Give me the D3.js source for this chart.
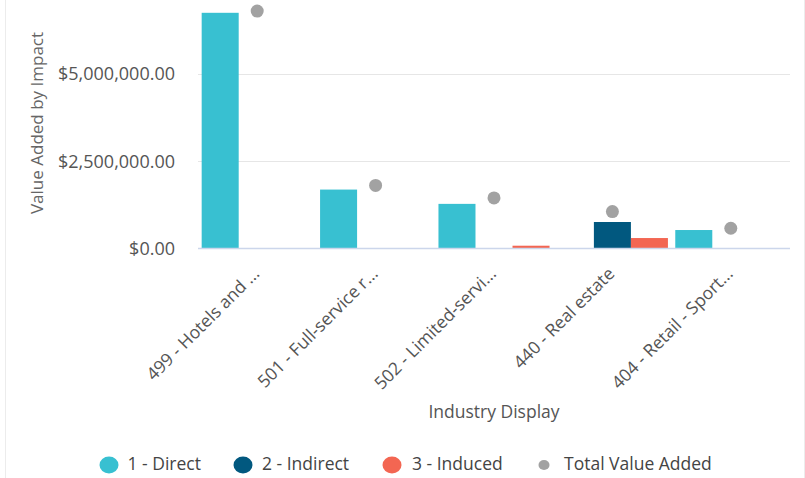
<!DOCTYPE html>
<html>
<head>
<meta charset="utf-8">
<script src="https://cdn.jsdelivr.net/npm/d3@7"></script>
<style>
  html, body { margin: 0; padding: 0; background: #fff; }
  svg { display: block; font-family: "Open Sans", "Noto Sans", sans-serif; }
</style>
</head>
<body>
<svg id="chart" width="805" height="478"></svg>
<script>
// Industries shown on the x axis (labels as displayed, truncated)
const categories = [
  "499 - Hotels and ...",
  "501 - Full-service r...",
  "502 - Limited-servi...",
  "440 - Real estate",
  "404 - Retail - Sport..."
];
// Value added by impact type, in dollars
const direct   = [6760000, 1690000, 1280000, 0, 530000];
const indirect = [0, 0, 0, 760000, 0];
const induced  = [0, 0, 80000, 300000, 0];
const totalValueAdded = [6810000, 1810000, 1450000, 1060000, 580000];
const yTicks = [0, 2500000, 5000000];

const seriesNames = ["1 - Direct", "2 - Indirect", "3 - Induced"];
const seriesColors = ["#38c0d1", "#01587f", "#f36652"];
const totalName = "Total Value Added";
const totalColor = "#a2a2a2";

const svg = d3.select("#chart");
const W = 805, H = 478;
const plot = { left: 198, right: 790, top: -13, bottom: 248.5 };

// card edges
svg.append("line").attr("x1", 5.5).attr("x2", 5.5).attr("y1", 0).attr("y2", H)
  .attr("stroke", "#ececec").attr("stroke-width", 1);
svg.append("line").attr("x1", 804.5).attr("x2", 804.5).attr("y1", 0).attr("y2", H)
  .attr("stroke", "#ececec").attr("stroke-width", 1);

const x = d3.scaleBand().domain(categories).range([plot.left, plot.right]).padding(0);
const xs = d3.scaleBand().domain(seriesNames)
  .range([x.bandwidth() * 0.031, x.bandwidth() * 0.969]).padding(0);
const y = d3.scaleLinear().domain([0, 7500000]).range([plot.bottom, plot.top]);

// gridlines
svg.append("g").selectAll("line")
  .data(yTicks.filter(d => d > 0))
  .join("line")
  .attr("x1", plot.left).attr("x2", plot.right)
  .attr("y1", d => Math.round(y(d)) + 0.5).attr("y2", d => Math.round(y(d)) + 0.5)
  .attr("stroke", "#e6e6e6").attr("stroke-width", 1);

// y axis labels
const fmt = d3.format("$,.2f");
const yAxis = d3.axisLeft(y).tickValues(yTicks).tickFormat(fmt).tickSize(0).tickPadding(0);
const gy = svg.append("g").attr("transform", `translate(175,0)`).call(yAxis);
gy.select(".domain").remove();
gy.selectAll("text")
  .attr("font-family", "'Open Sans', sans-serif")
  .attr("font-size", 18).attr("fill", "#555");

// columns
const seriesValues = [direct, indirect, induced];
seriesValues.forEach((vals, si) => {
  svg.append("g").selectAll("rect")
    .data(vals.map((v, i) => ({ cat: categories[i], v })))
    .join("rect")
    .attr("x", d => x(d.cat) + xs(seriesNames[si]))
    .attr("width", xs.bandwidth())
    .attr("y", d => y(d.v))
    .attr("height", d => y(0) - y(d.v))
    .attr("fill", seriesColors[si]);
});

// x axis baseline
svg.append("line")
  .attr("x1", plot.left).attr("x2", plot.right)
  .attr("y1", plot.bottom).attr("y2", plot.bottom)
  .attr("stroke", "#ccd6eb").attr("stroke-width", 1.5);

// total value added markers
svg.append("g").selectAll("circle")
  .data(totalValueAdded.map((v, i) => ({ cat: categories[i], v })))
  .join("circle")
  .attr("cx", d => x(d.cat) + x.bandwidth() / 2)
  .attr("cy", d => y(d.v))
  .attr("r", 6.5)
  .attr("fill", totalColor);

// rotated category labels
const xAxis = d3.axisBottom(x).tickSize(0).tickPadding(0);
const gx = svg.append("g").attr("transform", `translate(0,${plot.bottom})`).call(xAxis);
gx.select(".domain").remove();
gx.selectAll("text")
  .attr("font-family", "'Open Sans', sans-serif")
  .attr("font-size", 17.5).attr("fill", "#555")
  .attr("text-anchor", "end")
  .attr("dy", null)
  .attr("y", null)
  .attr("transform", "translate(0,23) rotate(-45)")
  .attr("dominant-baseline", "middle");

// axis titles
svg.append("text")
  .attr("transform", `translate(38,123) rotate(-90)`)
  .attr("text-anchor", "middle").attr("dominant-baseline", "middle")
  .attr("font-size", 17).attr("fill", "#666")
  .text("Value Added by Impact");
svg.append("text")
  .attr("x", (plot.left + plot.right) / 2).attr("y", 413)
  .attr("text-anchor", "middle").attr("dominant-baseline", "middle")
  .attr("font-size", 17.5).attr("fill", "#555")
  .text("Industry Display");

// legend
const legendItems = [
  { name: seriesNames[0], color: seriesColors[0], cx: 109, tx: 127.5, rx: 9.5, ry: 8.5 },
  { name: seriesNames[1], color: seriesColors[1], cx: 243, tx: 262, rx: 9.5, ry: 8.5 },
  { name: seriesNames[2], color: seriesColors[2], cx: 392, tx: 412, rx: 9.5, ry: 8.5 },
  { name: totalName, color: totalColor, cx: 544, tx: 564, rx: 5.5, ry: 5 }
];
const lg = svg.append("g").selectAll("g").data(legendItems).join("g");
lg.append("ellipse")
  .attr("cx", d => d.cx).attr("cy", 465)
  .attr("rx", d => d.rx).attr("ry", d => d.ry)
  .attr("fill", d => d.color);
lg.append("text")
  .attr("x", d => d.tx).attr("y", 465)
  .attr("dominant-baseline", "middle")
  .attr("font-size", 17.5).attr("fill", "#444")
  .text(d => d.name);
</script>
</body>
</html>
